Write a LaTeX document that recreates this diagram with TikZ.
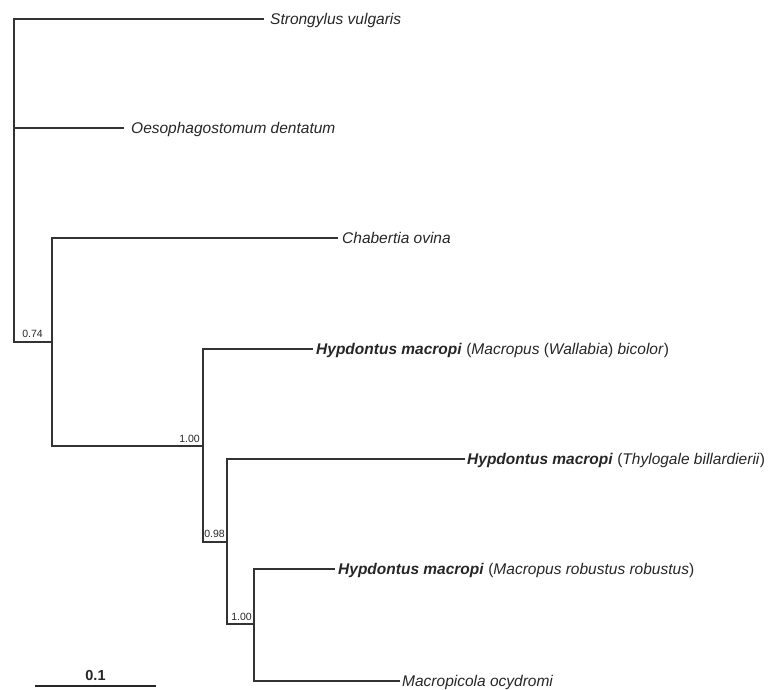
\documentclass[tikz,border=0pt]{standalone}
\usepackage{fontspec}
\setmainfont{Liberation Sans}
\usetikzlibrary{calc}
\begin{document}
\begin{tikzpicture}[x=1pt,y=-1pt,text=black!85,
    branch/.style={draw=black!80,line width=1.6pt,line cap=rect},
    tip/.style={anchor=west,inner xsep=3pt,inner ysep=0pt,text depth=0pt,
        font=\fontsize{15.5}{18}\selectfont},
    supp/.style={anchor=south east,inner sep=1pt,font=\fontsize{10.5}{12}\selectfont}]
\useasboundingbox (0,0) rectangle (769,690);
% internal nodes
\coordinate (root) at (14,342);
\coordinate (n1) at (52,342);
\coordinate (n2) at (203,446);
\coordinate (n3) at (227,542);
\coordinate (n4) at (254,624);
% tips
\node[tip,inner xsep=7pt] (sv) at (263,19) {\textit{Strongylus vulgaris}};
\node[tip,inner xsep=8pt] (od) at (123,128) {\textit{Oesophagostomum dentatum}};
\node[tip,inner xsep=5pt] (co) at (337,238) {\textit{Chabertia ovina}};
\node[tip,inner xsep=4pt] (hw) at (312,349) {\textbf{\textit{Hypdontus macropi}} (\textit{Macropus} (\textit{Wallabia}) \textit{bicolor})};
\node[tip] (ht) at (464,459) {\textbf{\textit{Hypdontus macropi}} (\textit{Thylogale billardierii})};
\node[tip,inner xsep=4pt] (hr) at (334,569) {\textbf{\textit{Hypdontus macropi}} (\textit{Macropus robustus robustus})};
\node[tip] (mo) at (399,681) {\textit{Macropicola ocydromi}};
% branches
\draw[branch] (root) |- (sv.west);
\draw[branch] (root) |- (od.west);
\draw[branch] (root) -- (n1);
\draw[branch] (n1) |- (co.west);
\draw[branch] (n1) |- (n2);
\draw[branch] (n2) |- (hw.west);
\draw[branch] (n2) |- (n3);
\draw[branch] (n3) |- (ht.west);
\draw[branch] (n3) |- (n4);
\draw[branch] (n4) |- (hr.west);
\draw[branch] (n4) |- (mo.west);
% support values
\node[supp] (s1) at ([xshift=-8pt,yshift=3pt]n1) {0.74};
\node[supp] (s2) at ([xshift=-2pt,yshift=2pt]n2) {1.00};
\node[supp] (s3) at ([xshift=-1pt,yshift=3pt]n3) {0.98};
\node[supp] (s4) at ([xshift=-1pt,yshift=2pt]n4) {1.00};
% scale bar
\coordinate (sb1) at (35,686);
\coordinate (sb2) at (156,686);
\draw[draw=black!85,line width=2.6pt] (sb1) -- (sb2);
\node[anchor=south,inner sep=0pt,font=\bfseries\fontsize{14.5}{16}\selectfont] (sbl) at ([yshift=5pt]$(sb1)!0.5!(sb2)$) {0.1};
\end{tikzpicture}
\end{document}
